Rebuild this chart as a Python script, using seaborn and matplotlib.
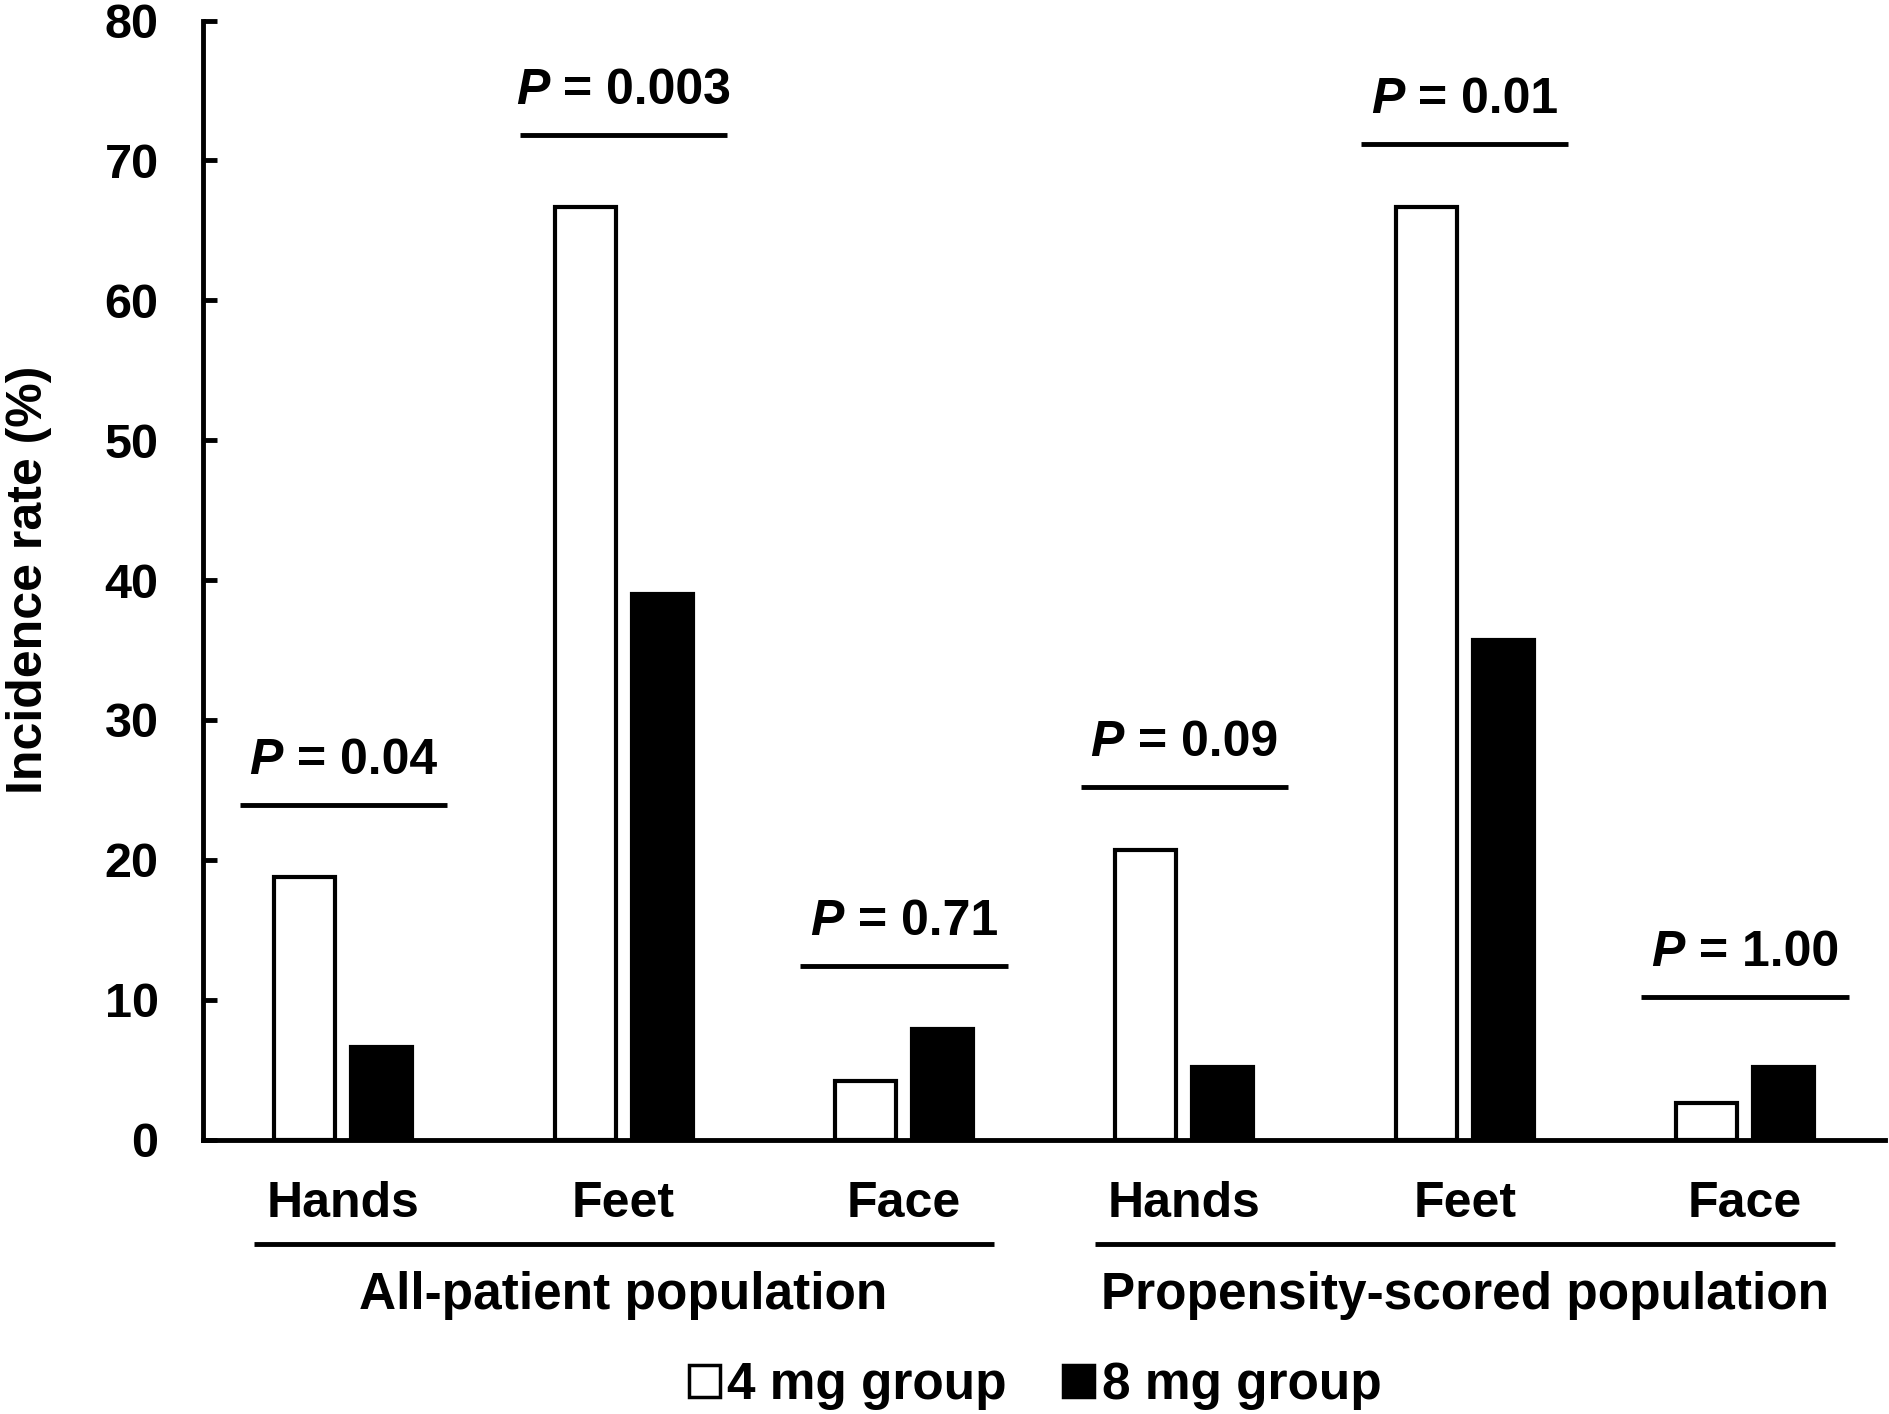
import pandas as pd
import numpy as np
import seaborn as sns
import matplotlib
matplotlib.use("Agg")
import matplotlib.pyplot as plt
from matplotlib.patches import Patch
from matplotlib.transforms import blended_transform_factory
from matplotlib.offsetbox import TextArea, HPacker, AnnotationBbox

# data
regions = ['Hands', 'Feet', 'Face', 'Hands', 'Feet', 'Face']
populations = ['All-patient population', 'Propensity-scored population']
groups = ['4 mg group', '8 mg group']
rate_4mg = [18.8, 66.7, 4.2, 20.7, 66.7, 2.6]
rate_8mg = [6.6, 39.0, 7.9, 5.2, 35.7, 5.2]
p_values = ['0.04', '0.003', '0.71', '0.09', '0.01', '1.00']
p_line_y = [23.9, 71.8, 12.4, 25.2, 71.2, 10.2]

slots = [f'{populations[i // 3]} {r}' for i, r in enumerate(regions)]
data = pd.DataFrame({
    'slot': slots * 2,
    'rate': rate_4mg + rate_8mg,
    'group': [groups[0]] * 6 + [groups[1]] * 6,
})

sns.set_theme(style='white')
plt.rcParams['font.family'] = ['Liberation Sans', 'DejaVu Sans']
plt.rcParams['font.weight'] = 'bold'
for key in ['text.color', 'axes.labelcolor', 'xtick.color', 'ytick.color']:
    plt.rcParams[key] = 'black'

fig, ax = plt.subplots(figsize=(18.89, 14.14), dpi=100)
fig.subplots_adjust(left=0.1075, right=0.998, bottom=0.194, top=0.9855)

sns.barplot(
    data=data, x='slot', y='rate', hue='group', order=slots, hue_order=groups,
    palette={groups[0]: 'white', groups[1]: 'black'}, edgecolor='black',
    linewidth=3, width=0.55, gap=0.21, saturation=1, errorbar=None,
    legend=False, ax=ax
)

ax.set_xlim(-0.5, 5.5)
ax.set_ylim(0, 80)
ax.set_yticks(np.arange(0, 81, 10))
ax.set_xticks(range(6))
ax.set_xticklabels(regions, fontsize=36, fontweight='bold')
ax.set_yticklabels([str(v) for v in range(0, 81, 10)], fontsize=35, fontweight='bold')
ax.tick_params(axis='x', length=0, pad=30)
ax.tick_params(axis='y', direction='in', length=10, width=3.5, pad=32, left=True)
ax.set_xlabel('')
ax.set_ylabel('Incidence rate (%)', fontsize=36, fontweight='bold')
ax.yaxis.set_label_coords(-0.09, 0.5)

for side in ['top', 'right']:
    ax.spines[side].set_visible(False)
for side in ['left', 'bottom']:
    ax.spines[side].set_linewidth(3.5)
    ax.spines[side].set_color('black')

# p-value brackets
for i, (p, yl) in enumerate(zip(p_values, p_line_y)):
    ax.plot([i - 0.37, i + 0.37], [yl, yl], color='black', lw=3.5,
            solid_capstyle='butt', clip_on=False)
    box = HPacker(children=[
        TextArea('P', textprops=dict(fontsize=36, fontweight='bold', fontstyle='italic')),
        TextArea(f' = {p}', textprops=dict(fontsize=36, fontweight='bold')),
    ], pad=0, sep=0, align='baseline')
    ab = AnnotationBbox(box, (i, yl), xybox=(0, 15), xycoords='data',
                        boxcoords='offset points', box_alignment=(0.5, 0),
                        frameon=False, pad=0, annotation_clip=False)
    ax.add_artist(ab)

# population group labels
trans = blended_transform_factory(ax.transData, ax.transAxes)
for k, pop in enumerate(populations):
    x0, x1 = 3 * k - 0.32, 3 * k + 2.32
    ax.plot([x0, x1], [-0.0934, -0.0934], transform=trans, color='black',
            lw=3.5, solid_capstyle='butt', clip_on=False)
    ax.text((x0 + x1) / 2, -0.139, pop, transform=trans, ha='center',
            va='center', fontsize=37, fontweight='bold')

handles = [Patch(facecolor='white', edgecolor='black', linewidth=2.5),
           Patch(facecolor='black', edgecolor='black', linewidth=2.5)]
fig.legend(handles, groups, loc='center', bbox_to_anchor=(0.548, 0.02), ncol=2,
           frameon=False, prop={'size': 37, 'weight': 'bold'},
           handlelength=0.6, handleheight=0.6, handletextpad=0.15,
           columnspacing=1.1, borderpad=0)

fig.savefig('out.png', dpi=100)
